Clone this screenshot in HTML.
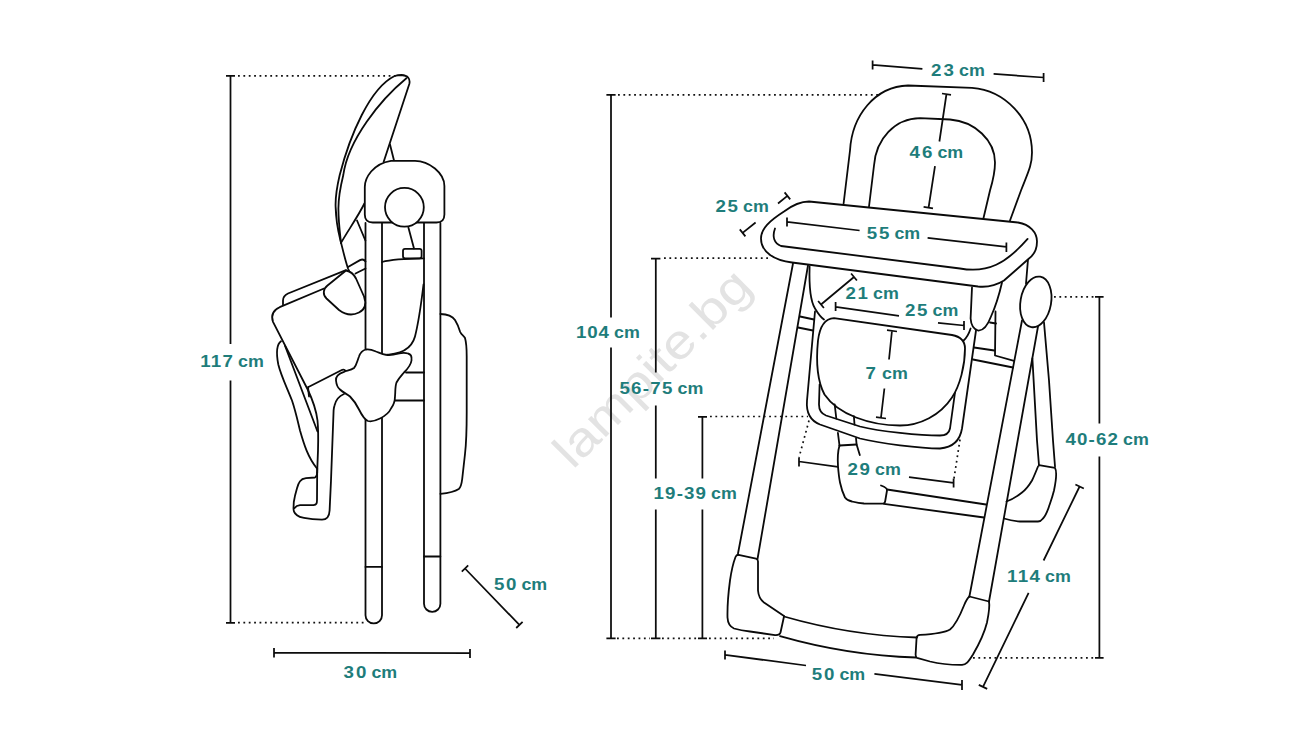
<!DOCTYPE html>
<html>
<head>
<meta charset="utf-8">
<title>High chair dimensions</title>
<style>
html,body{margin:0;padding:0;background:#fff;}
body{width:1300px;height:750px;overflow:hidden;font-family:"Liberation Sans",sans-serif;}
svg{display:block;position:absolute;left:0;top:0;}
.c{fill:none;stroke:#0a0a0a;stroke-width:1.8;stroke-linecap:round;stroke-linejoin:round;}
.w{fill:#fff;stroke:#0a0a0a;stroke-width:1.8;stroke-linecap:round;stroke-linejoin:round;}
.d{fill:none;stroke:#0c0c0c;stroke-width:1.75;stroke-linecap:butt;}
.dot{fill:none;stroke:#111;stroke-width:1.7;stroke-dasharray:1.8 3.58;}
.t{font-family:"Liberation Sans",sans-serif;font-weight:bold;font-size:16px;fill:#1e7d7b;}
.wm{font-family:"Liberation Sans",sans-serif;font-size:48px;fill:#e3e3e3;}
</style>
</head>
<body>
<svg width="1300" height="750" viewBox="0 0 1300 750">
<rect x="0" y="0" width="1300" height="750" fill="#ffffff"/>

<g transform="translate(0 0.5)">
<!-- WATERMARK -->
<g id="wm">
<text class="wm" transform="translate(572.7 469.8) rotate(-45)" x="0" y="0" textLength="257" lengthAdjust="spacingAndGlyphs">lampite.bg</text>
</g>

<!-- LEFT FIGURE -->
<g id="left">
<!-- backrest -->
<path class="c" d="M383.7,161.3 L409.3,83.5 C410.5,78.5 408,74.8 401.5,74.5 C399,74.5 396.5,74.9 394.6,75.5 C370,87.5 350,134.5 339.7,174.5 C337,186 335.3,196 335.6,206 C336,220 338,230 340,238 C343,250 345,259 348,268 C353,280 358,290 365,298"/>
<path class="c" d="M406.4,77.7 C380,99.5 348,139.5 343.3,174.5 C340,188 338.4,198 338.4,208 C338.5,222 340,233 341,242.4"/>
<path class="c" d="M341,242.4 C348,230 358,216 364.4,203"/>
<path class="c" d="M357,220 L365.4,240"/>
<path class="c" d="M390,144 L394,160"/>
<!-- legs -->
<path class="c" d="M365.5,222.4 L365.5,614.7 A8.25,8.25 0 0 0 382,614.7 L382,222.4"/>
<path class="c" d="M365.5,566.4 L382,566.4"/>
<path class="c" d="M424,222.4 L424,603.2 A8.2,8.2 0 0 0 440.4,603.2 L440.4,222.4"/>
<path class="c" d="M424,556 L440.4,556"/>
<!-- hub -->
<path class="w" d="M364.8,214 L364.8,186.5 C364.8,177.5 373,163 391,160.3 L415,160.3 C429,160.3 444.4,172.5 444.4,185.5 L444.4,214 Q444.4,222 436.5,222 L372.8,222 Q364.8,222 364.8,214 Z"/>
<circle class="w" cx="404.4" cy="206.8" r="19.4"/>
<!-- between legs -->
<path class="c" d="M408.4,227 L414,248"/>
<rect class="c" x="403" y="248.3" width="18.6" height="9.5" rx="2" ry="2"/>
<path class="c" d="M382,261.5 C390,259.3 400,258.2 424,257.9"/>
<path class="c" d="M423.5,284 C421,305 418,324 415,336 C412,347 402,354.5 382,354.4"/>
<path class="c" d="M406,372 L424,372 M394,400 L424,400"/>
<!-- right bump -->
<path class="c" d="M440.4,313.5 C447,313.6 452,315 455,319.5 C457.5,323.5 459,327.5 460.2,331.5 C461.5,334.5 464,335.5 465,337.5 C466.5,342.5 466.7,350 466.7,356 L466.7,412 C466.7,430 466,445 465,453.5 L462.2,478.5 C461.5,484.5 460.5,487 458.8,488.5 C455,491 449,492.5 440.4,493.3"/>
<!-- seat pad behind -->
<path class="c" d="M281,340.7 C276.5,344 276,352 278.3,364 C281,375 286,385 292,400 C296,412 298,422 300,430 C304,444 308,457 317,468"/>
<path class="c" d="M285,345.3 L317.5,431"/>
<!-- upper rect behind -->
<path class="c" d="M283,304 L283,300 C283,296 285,294.5 288,293 L346,269.6"/>
<!-- big tilted rect -->
<path class="c" d="M324,288 L279.7,306.7 C273.5,309.5 270.5,314 273,321.3 L307.7,389 C312,398 316,408 317.5,420 C318.5,430 318.3,440 318,450 L317.3,468 L317.2,472"/>
<path class="c" d="M308,386.7 L342.3,369.3 Q344.5,368.5 345.5,370.5 M308,386.7 L309,396"/>
<!-- armrest blob -->
<path class="w" d="M346,270 C351,271 354,274 356,278 L364,296 C366.5,303 365,309 359,312 C352,315.5 345,314 339,309.5 L326.5,298 C322.5,294 323,288.5 327.5,285 Z"/>
<!-- small tilted rect -->
<path class="c" d="M348,266.5 L360,259.6 Q363.5,258 365.5,261 M355.5,273 L365.5,268"/>
<!-- footrest piece -->
<path class="c" d="M344,393.5 C339,395.5 336,399 334.5,405 C333.8,407.5 333.6,409 333.6,410 L331,480 L329.6,510 C329.3,516 326.5,519.2 322,519.2 C314,518.8 308,518 304,517.3 C300,516.7 298.5,516 297,514.7 C294,512.2 293.2,510.7 293.6,505.7 L293.8,501.5 C294.5,496.7 295.8,491.7 297,487.7 C298,484.2 298.8,482.2 300,480.7 C301.5,478.7 303.5,478 306,477.7 L315,477 Q317,476.2 317.2,472"/>
<path class="c" d="M317.2,467.5 L317,499.5 C317,503 316.5,504.2 313.5,504.6 L300,504.6 Q296.5,505 294.4,507.6"/>
<!-- splat blob -->
<path class="w" d="M366,349 C362,350 360,353 359,356 C357,361 356.5,365 354,367.5 C351,370 347,370 344,371.3 C339,373 335.5,376 336,380 C336.5,385 338,387.5 340,389 C343,392 347,393.5 350,396 C354,400 356.5,404 359,409 C361.5,414 364,419 368,420.5 C372,421.5 376,420 380,418 C385,415.5 389,412.5 391,408 C394,404 395,400 395,396 C395.5,391 395,386 396.5,382 C398.5,378 401.5,375 404,372 C408,368 411,364 411.5,360 C412,356 410.5,353.5 408,353 C404.5,352 401,352.5 398,353.2 C394,354.3 390,355 386,354.3 C382,353.5 379,352 376,351 C372.5,349.5 369,348.5 366,349 Z"/>
</g>

<!-- RIGHT FIGURE -->
<g id="right">
<!-- backrest outer/inner -->
<path class="c" d="M843.6,203 L850,150 C852,115 875,86 908,85 L972,87.4 C1005,90 1032,118 1032,152 C1032,165 1028,172 1021,190 L1010,220"/>
<path class="c" d="M869,206 L874,165 C876,138 895,118 920,117.6 L950,119 C975,121 995,140 995,162 C995,172 993,180 990,190 L983.4,218"/>
<!-- legs behind tray : front-left -->
<path class="c" d="M793,263 L738,553"/>
<path class="c" d="M808,265 L757.6,558"/>
<!-- left seat side fabric -->
<path class="c" d="M809.6,266 C809,285 810,300 815,308 C818,313 821,317 824,319"/>
<path class="c" d="M800,316 L814,319 M798,327 L813,330"/>
<!-- seat frame outer -->
<path class="c" d="M815,311 L807,400 C806,412 810,420 820,424 L860,438 C880,443 920,448 940,448 C952,447 960,440 962,428 L976,330"/>
<!-- seat frame inner -->
<path class="c" d="M819.6,384 L819,404 C819,410 821,413 826,415 L860,426 C880,431 920,435 940,435 C946,435 949,433 950,428 L955,392"/>
<!-- right seat side fabric -->
<path class="c" d="M972,287 L970.6,318 C971,324 973,328.5 978,330 C984,330.5 988,324 991,316 C996,305 999,295 1002,282"/>
<path class="c" d="M970.6,328 C969,333 967,337 963.6,340"/>
<path class="c" d="M995.5,311 L995,355 L1014,360.4"/>
<path class="c" d="M990,322 L996,323"/>
<path class="c" d="M974,347 L994.4,350 M973,359 L1013,367"/>
<!-- seat pad -->
<path class="w" d="M834,317.6 L952,334.5 C960,336 965,340 965,348 C965,365 960,385 952,397 C940,415 920,425 900,425 C870,425 838,414 824.5,394 C817,380 816,360 818,340 C819.5,328 824,318 834,317.6 Z"/>
<!-- footrest -->
<path class="c" d="M834.7,404 L836.3,418 M837.9,432.3 L839.5,445 M853.9,415.7 L854.5,424 M856,437.6 L856.6,444 L859.8,454.6"/>
<path class="c" d="M839.5,445 L856.6,444"/>
<path class="c" d="M839.5,445 C838,450 837.6,460 838,466 C838.5,472 839,477 840,482 C841.5,489 843,493 845,497 C847,500 849,500.5 852,501 C856,502 860,502.8 864,503 L883,503.2 C885,503 885,502 885.3,500 L887,490 C887.3,488 885,486.5 881,485"/>
<!-- crossbar -->
<path class="c" d="M887,489 L986,504 M884,503.4 L984,517"/>
<!-- front-right leg -->
<path class="c" d="M1022,320 L969.4,596"/>
<path class="c" d="M1038,326 L989,601"/>
<!-- rear-right leg -->
<path class="c" d="M1044,322 L1049,380 L1053,440 L1055,466"/>
<path class="c" d="M1032.4,358 L1037,440 L1039,465"/>
<!-- rear foot -->
<path class="c" d="M1039,464.6 L1055,467.4 C1056.5,470 1056.5,478 1054,490 C1052,498 1050,503 1049,506 C1047,512 1045,516 1043,518 C1041.5,520 1040,521 1038,521 L1020,521 C1014,520.5 1009,519.5 1004,518"/>
<path class="c" d="M1038,466 C1036,471 1034,476 1032,480 C1029,485 1026,489 1022,492 C1017,496 1012,499 1006.5,501"/>
<!-- knob -->
<path class="c" d="M1028,259 L1026,283"/>
<ellipse class="w" cx="1035.8" cy="301.4" rx="15.3" ry="25.6" transform="rotate(10 1035.8 301.4)"/>
<!-- tray -->
<path class="w" d="M809,201 L1018,222 C1030,224 1037,232 1037,241 C1037,250 1033,255 1029,258 L1004,280 C996,285 988,287 978,286 L792,262 C775,260 761,252 761,238 C761,228 770,220 784,211 C792,205 800,201 809,201 Z"/>
<path class="c" d="M775,228 C772,236 774,243 781,245.5 L960,268 C988,273 1006,263 1027.6,238.4"/>
<!-- left foot -->
<path class="c" d="M738.5,554.3 L756,558.2 Q758,558.8 758,561 L758,590 C758.5,596 760,599 764,602 L784,615.6"/>
<path class="c" d="M738.5,554.3 Q736.5,554 735.5,556.5 C733,563 731,573 730,580 C728,595 727.3,608 727.5,617 C727.8,623 729.5,626 734,628 C739,629.5 745,630.5 750,631 L775,634.6 Q779.5,635 780.5,632 L784,616"/>
<!-- base bar -->
<path class="c" d="M784,616 Q850,635 917,637 M780,635.6 Q848,655 916,657"/>
<!-- right foot -->
<path class="c" d="M969.4,596 L989,601"/>
<path class="c" d="M969.4,596 C967,598 966,600 964,605 C960,615 955,625 950,629 C945,632 935,633.5 920,634.4 C918,634.6 917,635.5 916.6,637 L915.6,654 C915.6,656 916,657 917,657.4 L930,661 C940,663.5 950,664.5 962,664.4 C966,664 968,662 973,654 C980,642 985,630 987,622 C989,612 990,606 989,601"/>
</g>

<!-- DIMENSIONS -->
<g id="dims">
<!-- 117 -->
<path class="d" d="M230.5,75.4 L230.5,343.6 M230.5,380 L230.5,622.4 M226,75.4 L235,75.4 M226,622.4 L235,622.4"/>
<path class="dot" d="M238,75.4 L396,75.4 M238,622.2 L364,622.2"/>
<!-- 30 -->
<path class="d" d="M274,652 L470,652.7 M274,647.4 L274,657 M470,648.4 L470,657.4"/>
<!-- 50 left -->
<path class="d" d="M465,568 L519.4,624.4 M461.8,571.1 L468.2,564.9 M516.2,627.5 L522.6,621.3"/>
<!-- 23 -->
<path class="d" d="M872.6,64.4 L922.4,68.4 M993.6,73.4 L1043.6,77 M872.6,60 L872.6,69 M1043.6,72.4 L1043.6,81.6"/>
<!-- 46 -->
<path class="d" d="M946.4,94 L939.4,141 M935,165.6 L928.6,207 M942,93 L951,94.4 M923.6,206.4 L933,207.8"/>
<!-- 25 tray -->
<path class="d" d="M787.4,195.4 L778,203 M755.6,222 L742.6,232.4 M784.6,191.9 L790.2,198.9 M739.8,228.9 L745.4,235.9"/>
<!-- 55 -->
<path class="d" d="M787,221.4 L859.6,230 M927.6,237.4 L1006.4,246.4 M787,217 L787,226 M1006.4,242 L1006.4,251.6"/>
<!-- 21 -->
<path class="d" d="M854,276.5 L821,304 M851.1,273 L856.9,280 M818.1,300.5 L823.9,307.5"/>
<!-- 25 seat -->
<path class="d" d="M835.6,306.4 L899,315.4 M938,322.4 L964,325 M835.6,301.6 L835.6,310.6 M964,320.4 L964,329.6"/>
<!-- 7 -->
<path class="d" d="M892,330 L889,359 M884.4,388 L881,417 M887,329.6 L897,331 M876,416.6 L886,418"/>
<!-- 29 -->
<path class="d" d="M799,461 L838,466.4 M909,476.6 L953.6,482.4 M799,457 L799,466 M953.6,478 L953.6,487"/>
<path class="dot" d="M809,420 L799,457 M960,439 L954,478"/>
<!-- 104 -->
<path class="d" d="M611,94.4 L611,317 M611,347 L611,637.8 M606.4,94.4 L615.6,94.4 M606.4,637.8 L615.6,637.8"/>
<path class="dot" d="M618,94.4 L878,94.4"/>
<!-- 56-75 -->
<path class="d" d="M655.8,258 L655.8,372 M655.8,405 L655.8,478 M655.8,509 L655.8,637.8 M651,258 L660.4,258 M651,637.8 L660.4,637.8"/>
<path class="dot" d="M664,257.6 L768,257.6"/>
<!-- 19-39 -->
<path class="d" d="M702.4,416.4 L702.4,478 M702.4,509 L702.4,637.8 M698,416.4 L707,416.4 M698,637.8 L707,637.8"/>
<path class="dot" d="M710,416 L808,416"/>
<path class="dot" d="M617,637.8 L650,637.8 M662,637.8 L697,637.8 M709,637.8 L774,637.8"/>
<!-- 40-62 -->
<path class="d" d="M1099.4,296.4 L1099.4,423 M1099.4,456 L1099.4,657.4 M1095,296.4 L1103.6,296.4 M1095,657.4 L1103.6,657.4"/>
<path class="dot" d="M1054,296.4 L1095,296.4 M973,657.4 L1095,657.4"/>
<!-- 114 -->
<path class="d" d="M1079.6,486 L1043.6,560 M1028.6,592.4 L983,686.4 M1075.4,484 L1083.8,488 M978.8,684.4 L987.2,688.4"/>
<!-- 50 right -->
<path class="d" d="M725,654.4 L806,665 M874.4,673.4 L962,684.4 M725,650 L725,659 M962,679.6 L962,689.4"/>
</g>

<!-- LABELS -->
<g id="labels">
<text class="t" transform="translate(200.3 366.8) scale(1.17 1)" x="0" y="0" textLength="27.86" lengthAdjust="spacing">117</text><text class="t" x="238.0" y="366.8" textLength="25.8" lengthAdjust="spacingAndGlyphs">cm</text>
<text class="t" transform="translate(343.5 677.5) scale(1.17 1)" x="0" y="0" textLength="19.49" lengthAdjust="spacing">30</text><text class="t" x="371.4" y="677.5" textLength="25.8" lengthAdjust="spacingAndGlyphs">cm</text>
<text class="t" transform="translate(494.1 589.4) scale(1.17 1)" x="0" y="0" textLength="18.97" lengthAdjust="spacing">50</text><text class="t" x="521.4" y="589.4" textLength="25.8" lengthAdjust="spacingAndGlyphs">cm</text>
<text class="t" transform="translate(931.1 75.0) scale(1.17 1)" x="0" y="0" textLength="19.49" lengthAdjust="spacing">23</text><text class="t" x="959.0" y="75.0" textLength="25.8" lengthAdjust="spacingAndGlyphs">cm</text>
<text class="t" transform="translate(909.5 157.6) scale(1.17 1)" x="0" y="0" textLength="19.49" lengthAdjust="spacing">46</text><text class="t" x="937.4" y="157.6" textLength="25.8" lengthAdjust="spacingAndGlyphs">cm</text>
<text class="t" transform="translate(715.5 211.0) scale(1.17 1)" x="0" y="0" textLength="19.15" lengthAdjust="spacing">25</text><text class="t" x="743.0" y="211.0" textLength="25.8" lengthAdjust="spacingAndGlyphs">cm</text>
<text class="t" transform="translate(866.7 238.0) scale(1.17 1)" x="0" y="0" textLength="19.32" lengthAdjust="spacing">55</text><text class="t" x="894.4" y="238.0" textLength="25.8" lengthAdjust="spacingAndGlyphs">cm</text>
<text class="t" transform="translate(845.5 298.5) scale(1.17 1)" x="0" y="0" textLength="19.15" lengthAdjust="spacing">21</text><text class="t" x="873.0" y="298.5" textLength="25.8" lengthAdjust="spacingAndGlyphs">cm</text>
<text class="t" transform="translate(905.1 315.6) scale(1.17 1)" x="0" y="0" textLength="19.15" lengthAdjust="spacing">25</text><text class="t" x="932.6" y="315.6" textLength="25.8" lengthAdjust="spacingAndGlyphs">cm</text>
<text class="t" transform="translate(865.5 378.4) scale(1.17 1)" x="0" y="0">7</text><text class="t" x="882.0" y="378.4" textLength="25.8" lengthAdjust="spacingAndGlyphs">cm</text>
<text class="t" transform="translate(847.5 474.4) scale(1.17 1)" x="0" y="0" textLength="19.15" lengthAdjust="spacing">29</text><text class="t" x="875.0" y="474.4" textLength="25.8" lengthAdjust="spacingAndGlyphs">cm</text>
<text class="t" transform="translate(576.1 337.6) scale(1.17 1)" x="0" y="0" textLength="28.03" lengthAdjust="spacing">104</text><text class="t" x="614.0" y="337.6" textLength="25.8" lengthAdjust="spacingAndGlyphs">cm</text>
<text class="t" transform="translate(619.4 393.4) scale(1.17 1)" x="0" y="0" textLength="45.30" lengthAdjust="spacing">56-75</text><text class="t" x="677.5" y="393.4" textLength="25.8" lengthAdjust="spacingAndGlyphs">cm</text>
<text class="t" transform="translate(653.6 498.8) scale(1.17 1)" x="0" y="0" textLength="44.70" lengthAdjust="spacing">19-39</text><text class="t" x="711.0" y="498.8" textLength="25.8" lengthAdjust="spacingAndGlyphs">cm</text>
<text class="t" transform="translate(1065.5 444.4) scale(1.17 1)" x="0" y="0" textLength="44.79" lengthAdjust="spacing">40-62</text><text class="t" x="1123.0" y="444.4" textLength="25.8" lengthAdjust="spacingAndGlyphs">cm</text>
<text class="t" transform="translate(1007.1 581.4) scale(1.17 1)" x="0" y="0" textLength="28.03" lengthAdjust="spacing">114</text><text class="t" x="1045.0" y="581.4" textLength="25.8" lengthAdjust="spacingAndGlyphs">cm</text>
<text class="t" transform="translate(811.7 679.4) scale(1.17 1)" x="0" y="0" textLength="19.32" lengthAdjust="spacing">50</text><text class="t" x="839.4" y="679.4" textLength="25.8" lengthAdjust="spacingAndGlyphs">cm</text>
</g>
</g>
</svg>
</body>
</html>
